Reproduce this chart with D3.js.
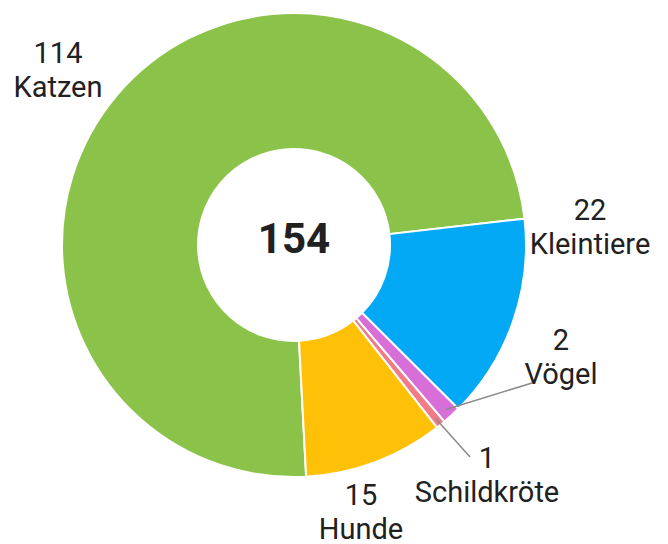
<!DOCTYPE html>
<html>
<head>
<meta charset="utf-8">
<script src="https://cdn.jsdelivr.net/npm/d3@7"></script>
<style>
  body { margin: 0; background: #fff; }
  text { font-family: Roboto, "Noto Sans", sans-serif; fill: #212121; }
</style>
</head>
<body>
<script>
var w = 668;
var h = 544;

// data
var names  = ["Katzen", "Kleintiere", "Vögel", "Schildkröte", "Hunde"];
var values = [114, 22, 2, 1, 15];
var colors = ["#8bc34a", "#03a9f4", "#d86fd8", "#f27b88", "#ffc107"];
var total = 154;

// label placement relative to centre (dx, baseline of the number line)
var labelPos = {
  "Katzen":      [-236, -182],
  "Kleintiere":  [ 296,  -25],
  "Vögel":       [ 267,  105],
  "Schildkröte": [ 193,  223],
  "Hunde":       [  67,  260]
};
var leaderEnd = {
  "Vögel":       [238, 138],
  "Schildkröte": [176, 212]
};

var cx = 294, cy = 245;
var R = 232, r = 96;

var svg = d3.select("body")
            .append("svg")
            .attr("width", w)
            .attr("height", h);

var g = svg.append("g").attr("transform", "translate(" + cx + "," + cy + ")");

var pie = d3.pie()
            .sort(null)
            .value(d => d.value)
            .startAngle(177 * Math.PI / 180)
            .endAngle((177 + 360) * Math.PI / 180);

var arc = d3.arc().innerRadius(r).outerRadius(R);

var data = names.map((n, i) => ({ name: n, value: values[i], color: colors[i] }));
var arcs = pie(data);

g.selectAll("path")
  .data(arcs)
  .enter()
  .append("path")
  .attr("d", arc)
  .attr("fill", d => d.data.color)
  .attr("stroke", "#fff")
  .attr("stroke-width", 2);

// leader lines for the small slices
var lineArc = d3.arc().innerRadius(R - 8).outerRadius(R - 8);
g.selectAll("line.leader")
  .data(arcs.filter(d => leaderEnd[d.data.name]))
  .enter()
  .append("line")
  .attr("class", "leader")
  .attr("x1", d => lineArc.centroid(d)[0])
  .attr("y1", d => lineArc.centroid(d)[1])
  .attr("x2", d => leaderEnd[d.data.name][0])
  .attr("y2", d => leaderEnd[d.data.name][1])
  .attr("stroke", "#8a8a8a")
  .attr("stroke-width", 1.5);

var labels = g.selectAll("g.label")
  .data(arcs)
  .enter()
  .append("g")
  .attr("class", "label")
  .attr("transform", d => "translate(" + labelPos[d.data.name][0] + "," + labelPos[d.data.name][1] + ")");

labels.append("text")
  .attr("text-anchor", "middle")
  .attr("y", 0)
  .style("font-size", "29px")
  .text(d => d.data.value);

labels.append("text")
  .attr("text-anchor", "middle")
  .attr("y", 34)
  .style("font-size", "29px")
  .text(d => d.data.name);

g.append("text")
  .attr("text-anchor", "middle")
  .attr("y", 8)
  .style("font-size", "42px")
  .style("font-weight", "bold")
  .text(total);
</script>
</body>
</html>
